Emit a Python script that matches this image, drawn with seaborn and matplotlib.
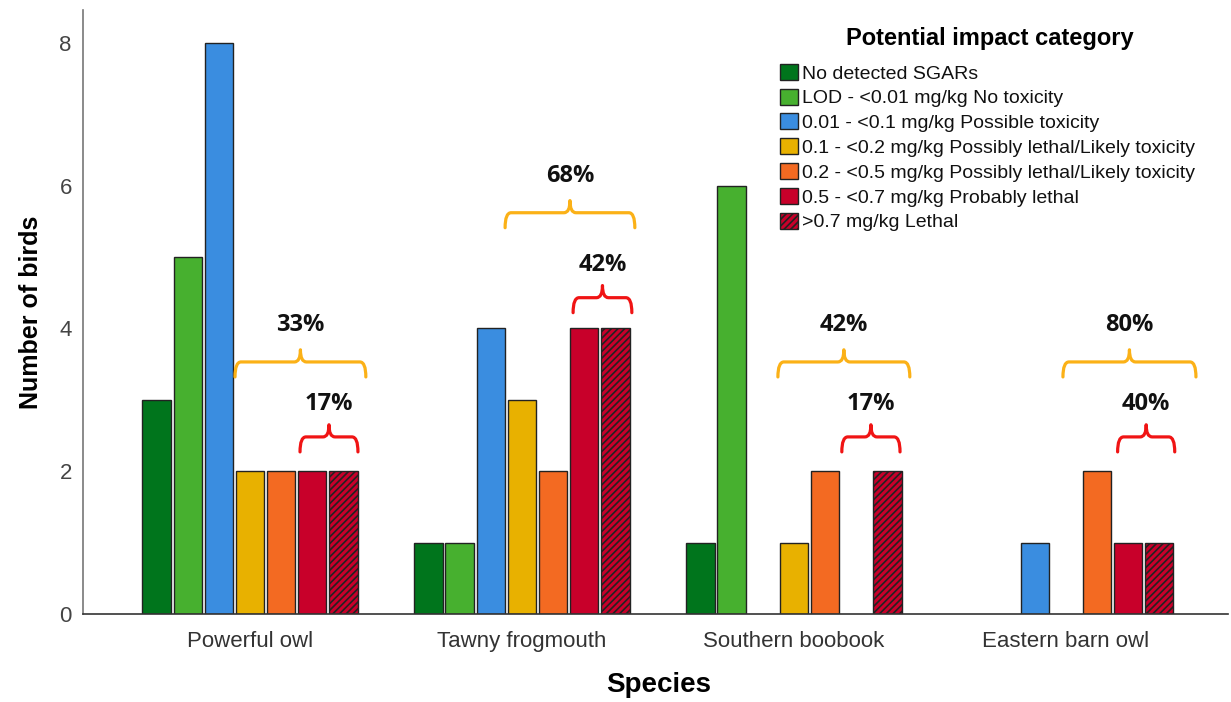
import pandas as pd
import matplotlib.pyplot as plt
import matplotlib.patches as mpatches
from matplotlib.path import Path
import seaborn as sns

# Data
species = ["Powerful owl", "Tawny frogmouth", "Southern boobook", "Eastern barn owl"]
categories = ["No detected SGARs",
              "LOD - <0.01 mg/kg No toxicity",
              "0.01 - <0.1 mg/kg Possible toxicity",
              "0.1 - <0.2 mg/kg Possibly lethal/Likely toxicity",
              "0.2 - <0.5 mg/kg Possibly lethal/Likely toxicity",
              "0.5 - <0.7 mg/kg Probably lethal",
              ">0.7 mg/kg Lethal"]
no_detected = [3, 1, 1, 0]
lod_no_tox = [5, 1, 6, 0]
possible_tox = [8, 4, 0, 1]
possibly_lethal_low = [2, 3, 1, 0]
possibly_lethal_high = [2, 2, 2, 2]
probably_lethal = [2, 4, 0, 1]
lethal = [2, 4, 2, 1]
colors = ["#00751c", "#47b02f", "#3a8de0", "#e8b100", "#f36a22", "#c8002a", "#c8002a"]

# bracket annotations (percent of birds above thresholds)
orange_pct = ["33%", "68%", "42%", "80%"]
red_pct = ["17%", "42%", "17%", "40%"]
orange_level = [3.53, 5.62, 3.53, 3.53]
red_level = [2.48, 4.43, 2.48, 2.48]
orange_span = [(-0.055, 0.426), (-0.062, 0.415), (-0.059, 0.426), (-0.011, 0.478)]
red_span = [(0.184, 0.397), (0.188, 0.404), (0.176, 0.39), (0.19, 0.40)]

series = [no_detected, lod_no_tox, possible_tox, possibly_lethal_low,
          possibly_lethal_high, probably_lethal, lethal]
rows = []
for cat, vals in zip(categories, series):
    for sp, v in zip(species, vals):
        rows.append({"species": sp, "category": cat, "count": v})
df = pd.DataFrame(rows)

sns.set_style("white")
plt.rcParams["font.family"] = ["Liberation Sans", "DejaVu Sans"]
plt.rcParams["hatch.color"] = "black"
plt.rcParams["hatch.linewidth"] = 1.2

fig = plt.figure(figsize=(12.31, 7.02), dpi=100)
ax = fig.add_axes([0.0674, 0.1254, 0.9302, 0.8604])

sns.barplot(data=df, x="species", y="count", hue="category", order=species,
            hue_order=categories, palette=colors, saturation=1, width=0.8, gap=0.08,
            edgecolor="#222222", linewidth=1.0, ax=ax)

for i, cont in enumerate(ax.containers):
    for bar in cont:
        if bar.get_height() == 0:
            bar.set_visible(False)
        if i == len(categories) - 1:
            bar.set_hatch("/////")


def brace(x0, x1, y, color, d=0.21, h=0.17, r=0.022):
    xm = (x0 + x1) / 2
    verts = [(x0, y - d), (x0, y), (x0 + r, y),
             (xm - r, y), (xm, y), (xm, y + h),
             (xm, y), (xm + r, y),
             (x1 - r, y), (x1, y), (x1, y - d)]
    codes = [Path.MOVETO, Path.CURVE3, Path.CURVE3,
             Path.LINETO, Path.CURVE3, Path.CURVE3,
             Path.CURVE3, Path.CURVE3,
             Path.LINETO, Path.CURVE3, Path.CURVE3]
    ax.add_patch(mpatches.PathPatch(Path(verts, codes), fill=False,
                                    edgecolor=color, linewidth=2.3,
                                    capstyle="round", joinstyle="round"))
    return xm


pct_font = dict(ha="center", va="center", fontsize=17, fontweight="bold",
                family=["Open Sans", "DejaVu Sans"], color="#111111")
for i in range(len(species)):
    xm = brace(i + orange_span[i][0], i + orange_span[i][1], orange_level[i], "#fbb117")
    ax.text(xm, orange_level[i] + 0.52, orange_pct[i], **pct_font)
    xm = brace(i + red_span[i][0], i + red_span[i][1], red_level[i], "#f01414")
    ax.text(xm, red_level[i] + 0.46, red_pct[i], **pct_font)

ax.set_xlim(-0.614, 3.596)
ax.set_ylim(0, 8.46)
ax.set_yticks([0, 2, 4, 6, 8])
ax.tick_params(axis="x", length=0, labelsize=16, labelcolor="#333333", pad=12)
ax.tick_params(axis="y", length=0, labelsize=16, labelcolor="#444444", pad=8)
for s in ["top", "right"]:
    ax.spines[s].set_visible(False)
ax.spines["left"].set_color("#777777")
ax.spines["bottom"].set_color("#333333")
ax.spines["left"].set_linewidth(1.2)
ax.spines["bottom"].set_linewidth(1.2)

ax.set_ylabel("Number of birds", fontsize=18, fontweight="bold", color="black")
ax.yaxis.set_label_coords(-0.035, 0.5)
ax.set_xlabel("Species", fontsize=20, fontweight="bold", color="black")
ax.xaxis.set_label_coords(0.503, -0.096)

handles = []
for i, (cat, col) in enumerate(zip(categories, colors)):
    handles.append(mpatches.Patch(facecolor=col, edgecolor="#222222", linewidth=1.0,
                                  hatch="/////" if i == len(categories) - 1 else None,
                                  label=cat))
ax.get_legend().remove()
leg = ax.legend(handles=handles, loc="upper left",
                bbox_to_anchor=(0.609, 0.911), frameon=False, fontsize=14.0,
                handlelength=0.9, handleheight=0.9, handletextpad=0.2,
                labelspacing=0.31, borderaxespad=0, borderpad=0)
for t in leg.get_texts():
    t.set_color("#111111")
fig.text(990 / 1231, 1 - 38 / 702, "Potential impact category", ha="center", va="center",
         fontsize=17, fontweight="bold", color="black")

fig.savefig("out.png", dpi=100)
